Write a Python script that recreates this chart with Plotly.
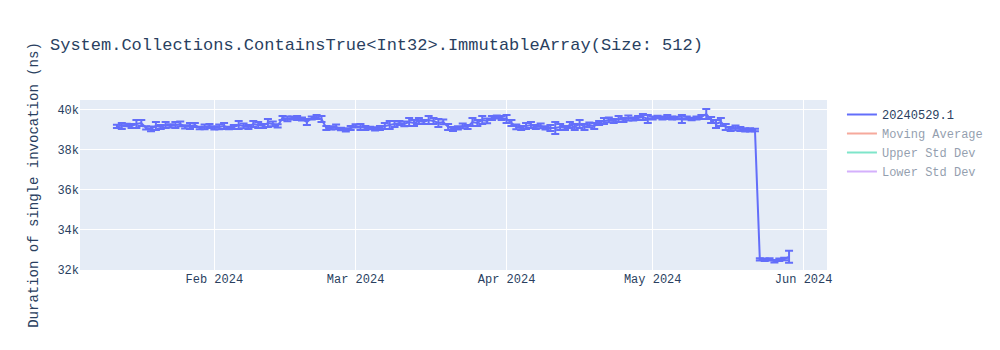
import plotly.graph_objects as go

# ---- data ----
dates = [
    "2024-01-12", "2024-01-13", "2024-01-14", "2024-01-15", "2024-01-16", "2024-01-17",
    "2024-01-18", "2024-01-19", "2024-01-20", "2024-01-21", "2024-01-22", "2024-01-23", "2024-01-24",
    "2024-01-25", "2024-01-26", "2024-01-27", "2024-01-28", "2024-01-29", "2024-01-30", "2024-01-31",
    "2024-02-01", "2024-02-02", "2024-02-03", "2024-02-04", "2024-02-05", "2024-02-06", "2024-02-07",
    "2024-02-08", "2024-02-09", "2024-02-10", "2024-02-11", "2024-02-12", "2024-02-13", "2024-02-14",
    "2024-02-15", "2024-02-16", "2024-02-17", "2024-02-18", "2024-02-19", "2024-02-20", "2024-02-21",
    "2024-02-22", "2024-02-23", "2024-02-24", "2024-02-25", "2024-02-26", "2024-02-27", "2024-02-28",
    "2024-02-29", "2024-03-01", "2024-03-02", "2024-03-03", "2024-03-04", "2024-03-05", "2024-03-06",
    "2024-03-07", "2024-03-08", "2024-03-09", "2024-03-10", "2024-03-11", "2024-03-12", "2024-03-13",
    "2024-03-14", "2024-03-15", "2024-03-16", "2024-03-17", "2024-03-18", "2024-03-19", "2024-03-20",
    "2024-03-21", "2024-03-22", "2024-03-23", "2024-03-24", "2024-03-25", "2024-03-26", "2024-03-27",
    "2024-03-28", "2024-03-29", "2024-03-30", "2024-03-31", "2024-04-01", "2024-04-02", "2024-04-03",
    "2024-04-04", "2024-04-05", "2024-04-06", "2024-04-07", "2024-04-08", "2024-04-09", "2024-04-10",
    "2024-04-11", "2024-04-12", "2024-04-13", "2024-04-14", "2024-04-15", "2024-04-16", "2024-04-17",
    "2024-04-18", "2024-04-19", "2024-04-20", "2024-04-21", "2024-04-22", "2024-04-23", "2024-04-24",
    "2024-04-25", "2024-04-26", "2024-04-27", "2024-04-28", "2024-04-29", "2024-04-30", "2024-05-01",
    "2024-05-02", "2024-05-03", "2024-05-04", "2024-05-05", "2024-05-06", "2024-05-07", "2024-05-08",
    "2024-05-09", "2024-05-10", "2024-05-11", "2024-05-12", "2024-05-13", "2024-05-14", "2024-05-15",
    "2024-05-16", "2024-05-17", "2024-05-18", "2024-05-19", "2024-05-20", "2024-05-21", "2024-05-22",
    "2024-05-23", "2024-05-24", "2024-05-25", "2024-05-26", "2024-05-27", "2024-05-28", "2024-05-29",
]

durations = [
    39180, 39200, 39250, 39200, 39300, 39350,
    39100, 39050, 39200, 39150, 39250, 39200, 39250,
    39300, 39150, 39200, 39250, 39100, 39150, 39200,
    39100, 39150, 39200, 39100, 39150, 39250, 39200,
    39150, 39300, 39250, 39200, 39350, 39300, 39200,
    39600, 39550, 39600, 39600, 39550, 39400, 39600,
    39650, 39550, 39100, 39100, 39150, 39050, 39000,
    39100, 39200, 39150, 39100, 39100, 39050, 39100,
    39200, 39250, 39300, 39350, 39300, 39400, 39350,
    39450, 39400, 39500, 39450, 39350, 39400, 39150,
    39050, 39100, 39200, 39150, 39400, 39350, 39500,
    39450, 39600, 39650, 39600, 39550, 39350, 39150,
    39100, 39200, 39250, 39150, 39200, 39100, 39100,
    39100, 39150, 39100, 39250, 39150, 39300, 39150,
    39250, 39200, 39350, 39450, 39500, 39450, 39550,
    39500, 39600, 39550, 39600, 39650, 39550, 39600,
    39650, 39600, 39650, 39600, 39600, 39550, 39600,
    39550, 39600, 39650, 39800, 39500, 39300, 39400,
    39150, 39050, 39100, 39050, 39000, 39000, 39000,
    32520, 32500, 32520, 32430, 32500, 32540, 32650,
]

errors = [
    80, 150, 60, 100, 200, 150,
    80, 120, 200, 100, 150, 80, 150,
    120, 80, 150, 100, 60, 120, 100,
    80, 120, 150, 60, 100, 200, 120,
    100, 150, 150, 100, 200, 120, 80,
    100, 120, 80, 100, 80, 150, 80,
    100, 150, 100, 80, 120, 60, 80,
    100, 80, 150, 100, 60, 80, 100,
    150, 200, 150, 100, 120, 200, 150,
    150, 100, 200, 150, 200, 120, 150,
    100, 80, 120, 100, 200, 150, 200,
    120, 100, 80, 100, 200, 150, 120,
    100, 150, 150, 100, 120, 80, 150,
    300, 150, 100, 150, 150, 200, 150,
    120, 150, 100, 150, 120, 100, 150,
    100, 120, 80, 100, 150, 200, 80,
    60, 80, 100, 80, 60, 200, 80,
    60, 80, 100, 250, 150, 200, 200,
    150, 100, 120, 100, 80, 80, 60,
    60, 60, 60, 60, 60, 60, 300,
]

ma_dates = ["2024-01-12", "2024-03-01", "2024-05-29"]
ma_values = [39200, 39250, 36000]
upper_values = [39400, 39450, 38500]
lower_values = [39000, 39050, 33500]

series_name = "20240529.1"
title_text = "System.Collections.ContainsTrue<Int32>.ImmutableArray(Size: 512)"
y_title = "Duration of single invocation (ns)"

fig = go.Figure()
fig.add_trace(go.Scatter(
    x=dates, y=durations, mode="lines", name=series_name,
    error_y=dict(type="data", array=errors, visible=True),
))
fig.add_trace(go.Scatter(x=ma_dates, y=ma_values, mode="lines", name="Moving Average", visible="legendonly"))
fig.add_trace(go.Scatter(x=ma_dates, y=upper_values, mode="lines", name="Upper Std Dev", visible="legendonly"))
fig.add_trace(go.Scatter(x=ma_dates, y=lower_values, mode="lines", name="Lower Std Dev", visible="legendonly"))

fig.update_layout(
    width=1000, height=350,
    title=dict(text=title_text),
    font=dict(family="Courier New, Liberation Mono, monospace"),
    yaxis=dict(title=dict(text=y_title), range=[31990, 40500]),
    xaxis=dict(range=["2024-01-04 10:00", "2024-06-05 19:00"]),
)

fig.write_html("out.html")
